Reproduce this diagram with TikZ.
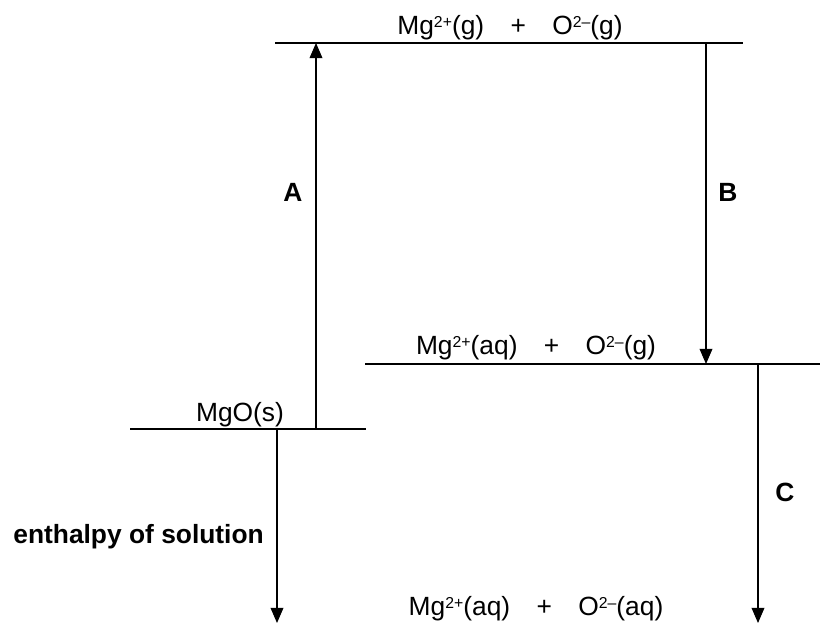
\documentclass[tikz,border=0pt]{standalone}
\usepackage{fontspec}
\setmainfont{Liberation Sans}
\usepackage{tikz}
\usetikzlibrary{arrows.meta,positioning}

\tikzset{
    level/.style={line width=0.9pt},
    step arrow/.style={line width=0.9pt, -{Triangle[length=13pt,width=11pt]}},
    species/.style={anchor=base, inner sep=0pt, font=\fontsize{22.5}{27}\selectfont},
    steplabel/.style={font=\fontsize{22.5}{27}\selectfont\bfseries, inner sep=0pt}
}
\newcommand{\ionup}[1]{\raisebox{6.5pt}{\fontsize{13.5}{14}\selectfont #1}}

\begin{document}
\begin{tikzpicture}[x=0.03cm, y=0.03cm]
    \useasboundingbox (0,0) rectangle (833,625);

    % Gaseous ions (top level)
    \coordinate (gasL) at (275,582);
    \coordinate (gasR) at (743,582);
    \draw[level] (gasL) -- (gasR);
    \node[species] (gas) at (510,590) {Mg\ionup{2+}(g)\quad+\quad O\ionup{2--}(g)};

    % Hydrated Mg, gaseous O (middle level)
    \coordinate (midL) at (365,261);
    \coordinate (midR) at (820,261);
    \draw[level] (midL) -- (midR);
    \node[species] (mid) at (536,270) {Mg\ionup{2+}(aq)\quad+\quad O\ionup{2--}(g)};

    % Solid (lower level)
    \coordinate (solL) at (130,196);
    \coordinate (solR) at (366,196);
    \draw[level] (solL) -- (solR);
    \node[species] (mgo) at (240,203) {MgO(s)};

    % Both ions hydrated (no line)
    \node[species] (aq) at (536,9) {Mg\ionup{2+}(aq)\quad+\quad O\ionup{2--}(aq)};

    % Arrows
    \coordinate (aFoot) at (316,196);
    \coordinate (aHead) at (316,582);
    \coordinate (bFoot) at (706,582);
    \coordinate (bHead) at (706,261);
    \coordinate (cFoot) at (758,261);
    \coordinate (cHead) at (758,2);
    \coordinate (sFoot) at (277,196);
    \coordinate (sHead) at (277,2);
    \draw[step arrow] (aFoot) -- (aHead);
    \draw[step arrow] (bFoot) -- (bHead);
    \draw[step arrow] (cFoot) -- (cHead);
    \draw[step arrow] (sFoot) -- (sHead);

    % Labels
    \node[steplabel] (labA) at (293,433) {A};
    \node[steplabel] (labB) at (728,433) {B};
    \node[steplabel] (labC) at (785,133) {C};
    \node[steplabel, anchor=east] (labS) at (264,88) {enthalpy of solution};
\end{tikzpicture}
\end{document}
